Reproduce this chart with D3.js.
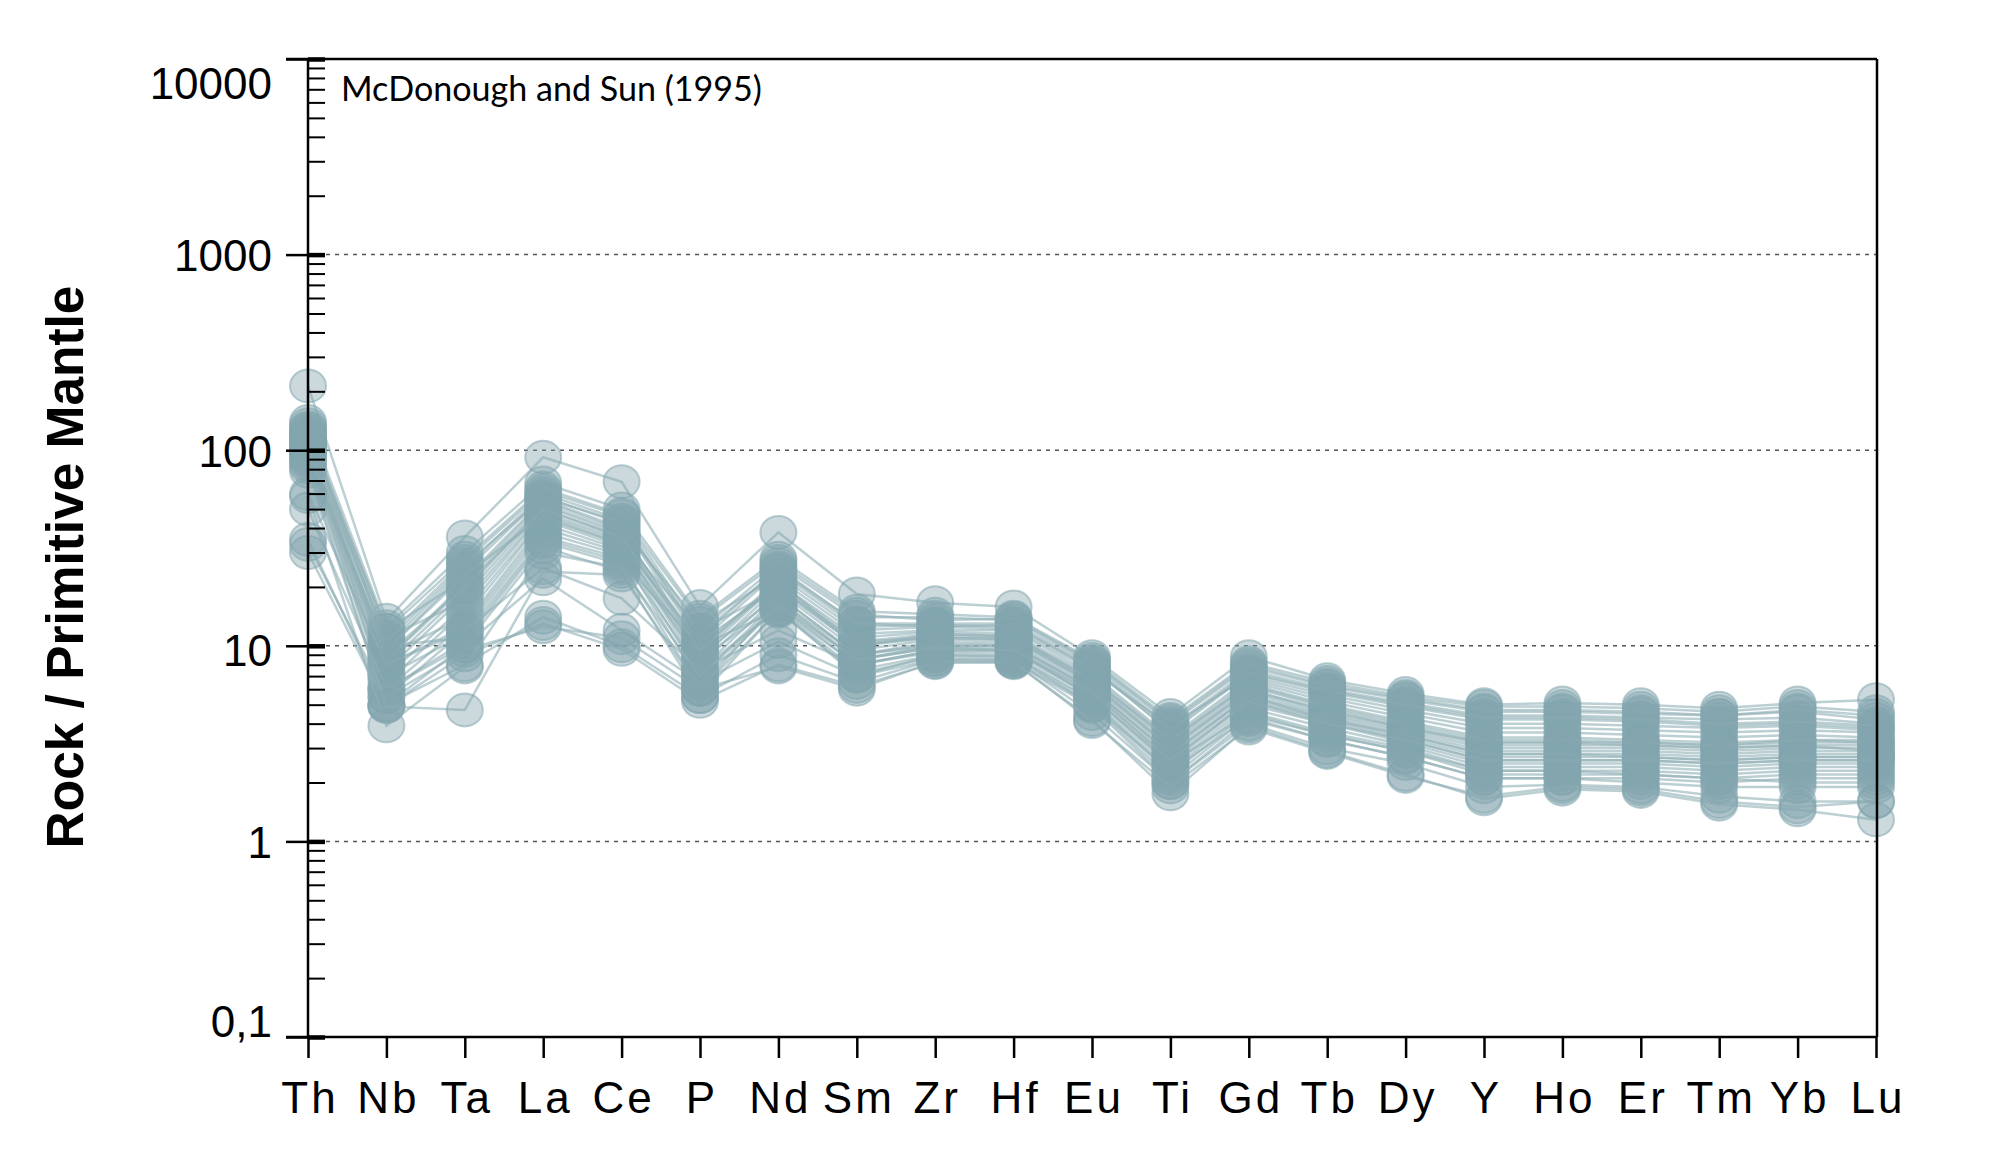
<!DOCTYPE html>
<html>
<head>
<meta charset="utf-8">
<script src="https://cdn.jsdelivr.net/npm/d3@7"></script>
<style>
  html, body { margin: 0; padding: 0; background: #fff; }
  svg { display: block; }
</style>
</head>
<body>
<svg id="chart" width="2000" height="1157"></svg>
<script>
// ---------------- DATA ----------------
const elements = ["Th","Nb","Ta","La","Ce","P","Nd","Sm","Zr","Hf","Eu","Ti","Gd","Tb","Dy","Y","Ho","Er","Tm","Yb","Lu"];
const yTickValues = [0.1, 1, 10, 100, 1000, 10000];
const yTickLabels = ["0,1", "1", "10", "100", "1000", "10000"];
const gridValues = [1, 10, 100, 1000];
const yTitle = "Rock / Primitive Mantle";
const noteText = "McDonough and Sun (1995)";

// samples (Rock / Primitive Mantle), order = elements
const s01 = [213, 13.5, 36, 92, 69, 15.9, 38, 18.4, 16.6, 15.8, 8.8, 4.4, 8.8, 6.7, 5.7, 5.0, 5.1, 5.0, 4.8, 5.1, 5.3];
const s02 = [140, 12.5, 30, 68, 50, 14, 28, 15, 14.5, 14, 8.5, 4.2, 8.2, 6.5, 5.5, 4.9, 4.9, 4.8, 4.6, 4.9, 4.6];
const s03 = [135, 11, 27, 62, 46, 12, 26, 14, 14, 13.5, 8.2, 4.0, 7.8, 6.2, 5.3, 4.6, 4.6, 4.5, 4.4, 4.6, 4.2];
const s04 = [130, 10, 25, 60, 44, 11, 25, 13, 13, 13, 8, 3.8, 7.5, 6, 5.1, 4.4, 4.4, 4.3, 4.2, 4.3, 4.0];
const s05 = [125, 9.5, 24, 58, 42, 10.5, 24, 12.5, 12.8, 12.5, 7.8, 3.6, 7.2, 5.8, 4.9, 4.2, 4.2, 4.1, 3.9, 4.0, 3.8];
const s06 = [120, 12, 22, 56, 40, 13, 23, 12, 12.5, 12.2, 7.5, 3.9, 7.0, 5.6, 4.7, 4.0, 4.0, 3.9, 3.8, 3.9, 3.7];
const s07 = [118, 8.5, 21, 55, 39, 9.5, 22, 11.5, 12, 12, 7.2, 3.4, 6.8, 5.4, 4.5, 3.8, 3.8, 3.7, 3.6, 3.7, 3.6];
const s08 = [115, 9, 20, 53, 38, 10, 21, 11, 11.8, 11.5, 7, 3.3, 6.6, 5.2, 4.3, 3.6, 3.6, 3.5, 3.4, 3.5, 3.4];
const s09 = [112, 8, 19, 52, 37, 9, 21, 10.5, 11.5, 11.2, 6.8, 3.2, 6.4, 5.0, 4.1, 3.4, 3.4, 3.3, 3.2, 3.3, 3.3];
const s10 = [110, 7.5, 18, 50, 36, 8.5, 20, 10, 11.2, 11, 6.6, 3.1, 6.2, 4.8, 3.9, 3.2, 3.2, 3.2, 3.1, 3.2, 3.2];
const s11 = [108, 11, 17, 48, 35, 12, 19.5, 10, 11, 10.8, 6.5, 3.0, 6.0, 4.6, 3.8, 3.1, 3.1, 3.1, 3.0, 3.1, 3.1];
const s12 = [105, 7, 16, 47, 34, 8, 19, 9.5, 10.8, 10.5, 6.3, 2.9, 5.8, 4.5, 3.7, 3.0, 3.0, 3.0, 2.9, 3.0, 3.0];
const s13 = [102, 6.5, 15, 45, 33, 7.5, 18, 9, 10.5, 10.2, 6.1, 2.8, 5.6, 4.4, 3.6, 2.9, 2.9, 2.9, 2.8, 2.9, 2.9];
const s14 = [100, 9, 14, 44, 32, 9, 18, 9, 10.2, 10, 6.0, 2.7, 5.5, 4.3, 3.5, 2.8, 2.8, 2.8, 2.7, 2.8, 2.8];
const s15 = [98, 6, 13, 42, 31, 7, 17, 8.5, 10, 9.8, 5.8, 2.6, 5.3, 4.2, 3.4, 2.7, 2.7, 2.7, 2.6, 2.7, 2.7];
const s16 = [95, 8, 12.5, 40, 30, 8.5, 16.5, 8.5, 9.8, 9.5, 5.6, 2.5, 5.2, 4.1, 3.3, 2.6, 2.6, 2.6, 2.5, 2.6, 2.6];
const s17 = [92, 5.5, 12, 38, 29, 6.5, 16, 8, 9.5, 9.3, 5.5, 2.4, 5.0, 4.0, 3.2, 2.5, 2.5, 2.5, 2.4, 2.5, 2.5];
const s18 = [90, 7, 11.5, 36, 28, 7.5, 15.5, 8, 9.3, 9, 5.3, 2.3, 4.8, 3.8, 3.1, 2.4, 2.4, 2.4, 2.3, 2.4, 2.4];
const s19 = [88, 10, 11, 35, 27, 10, 15.3, 7.5, 9, 8.8, 5.2, 2.2, 4.6, 3.6, 3.0, 2.3, 2.3, 2.3, 2.2, 2.3, 2.3];
const s20 = [85, 6, 10.5, 34, 26, 6, 15, 7.2, 8.8, 8.5, 5.0, 2.1, 4.4, 3.5, 2.9, 2.2, 2.2, 2.2, 2.1, 2.2, 2.2];
const s21 = [82, 5, 10, 32, 24, 5.5, 15.3, 7, 8.5, 8.3, 4.9, 2.0, 4.2, 3.3, 2.7, 2.1, 2.1, 2.1, 2.0, 2.1, 2.1];
const s22 = [128, 12, 28, 64, 47, 13.5, 27, 14.5, 13.5, 13.8, 8.3, 4.1, 8.0, 6.3, 5.4, 4.7, 4.7, 4.6, 4.4, 4.7, 4.4];
const s23 = [122, 10.5, 26, 57, 43, 11.5, 24.5, 13, 12.5, 12.8, 7.6, 3.7, 7.3, 5.9, 5.0, 4.3, 4.3, 4.2, 4.0, 4.1, 3.9];
const s24 = [97, 9.5, 23, 46, 33, 10.5, 20, 10.5, 11, 10.8, 6.4, 3.0, 5.9, 4.7, 3.8, 3.2, 3.2, 3.1, 3.0, 3.1, 2.9];
const s25 = [104, 8.5, 20, 50, 36, 9.5, 21, 10, 11.5, 11.2, 6.7, 3.3, 6.3, 4.9, 4.0, 3.3, 3.3, 3.2, 3.1, 3.3, 3.2];
const s26 = [60, 8, 12, 25, 17.5, 7.5, 12, 8, 9.5, 9.5, 5.5, 2.5, 4.5, 3.5, 2.9, 2.3, 2.3, 2.2, 2.1, 2.0, 2.0];
const s27 = [50, 6, 10, 22, 12, 6.5, 10.5, 7, 9, 8.8, 5, 2.3, 4.3, 3.3, 2.7, 2.1, 2.1, 2.0, 1.9, 1.9, 1.9];
const s28 = [35, 5, 8, 14, 10, 5.5, 9, 6.5, 8.5, 8.5, 4.5, 2.0, 4.0, 3.0, 2.5, 1.9, 1.95, 1.9, 1.7, 1.6, 1.6];
const s29 = [30, 4.9, 9, 13, 9.6, 5.2, 8, 6.2, 8.2, 8.2, 4.2, 1.75, 3.9, 2.9, 2.2, 1.65, 1.85, 1.8, 1.55, 1.45, 1.29];
const s30 = [33, 5.5, 9.5, 12.5, 11, 6, 7.8, 6, 8.3, 8.3, 4.1, 1.9, 3.8, 2.85, 2.15, 1.7, 1.9, 1.85, 1.6, 1.5, 1.6];
const s31 = [78, 4.9, 4.7, 24, 23, 6, 17, 9, 10, 10, 6, 2.8, 5.5, 4.2, 3.5, 2.8, 2.8, 2.7, 2.6, 2.7, 2.7];
const s32 = [58, 3.9, 7.8, 30, 25, 7, 16, 8.5, 9.8, 9.5, 5.8, 2.6, 5.2, 4.0, 3.3, 2.6, 2.6, 2.6, 2.5, 2.6, 2.6];

const samples = [s01,s02,s03,s04,s05,s06,s07,s08,s09,s10,s11,s12,s13,s14,s15,s16,
                 s17,s18,s19,s20,s21,s22,s23,s24,s25,s26,s27,s28,s29,s30,s31,s32];

// ---------------- LAYOUT ----------------
const L = 308, R = 1876, T = 59, B = 1037;
const svg = d3.select("#chart");
const font = "'Liberation Sans', Arial, Helvetica, sans-serif";

const x = d3.scalePoint().domain(elements).range([L, R]).padding(0);
const y = d3.scaleLog().domain([0.1, 10000]).range([B, T]);

// grid lines
svg.append("g").selectAll("line").data(gridValues).join("line")
  .attr("x1", L + 18).attr("x2", R)
  .attr("y1", d => y(d)).attr("y2", d => y(d))
  .attr("stroke", "#555").attr("stroke-width", 1.5)
  .attr("stroke-dasharray", "4,5");

// series
const color = "#82a5ae";
const line = d3.line().x((d, i) => x(elements[i])).y(d => y(d));
const gData = svg.append("g");
samples.forEach(s => {
  const g = gData.append("g");
  g.append("path").attr("d", line(s))
    .attr("fill", "none").attr("stroke", "#8fafb6")
    .attr("stroke-opacity", 0.6).attr("stroke-width", 2.5);
  g.selectAll("ellipse").data(s).join("ellipse")
    .attr("cx", (d, i) => x(elements[i])).attr("cy", d => y(d))
    .attr("rx", 18).attr("ry", 16.5)
    .attr("fill", color).attr("fill-opacity", 0.42)
    .attr("stroke", color).attr("stroke-opacity", 0.55).attr("stroke-width", 2);
});

// ---------------- AXES ----------------
// minor ticks (inside)
const minorVals = [];
yTickValues.slice(0, -1).forEach(v => { for (let k = 2; k <= 9; k++) minorVals.push(v * k); });
const gMinor = svg.append("g").attr("transform", `translate(${L},0)`)
  .call(d3.axisRight(y).tickValues(minorVals).tickSize(17).tickFormat(""));
gMinor.select(".domain").remove();
gMinor.selectAll(".tick line").attr("stroke", "#000").attr("stroke-width", 2);

// major ticks + labels
const gY = svg.append("g").attr("transform", `translate(${L},0)`)
  .call(d3.axisLeft(y).tickValues(yTickValues).tickSize(22)
        .tickFormat((d, i) => yTickLabels[i]));
gY.select(".domain").remove();
gY.selectAll(".tick line").attr("stroke", "#000").attr("stroke-width", 2.5);
gY.selectAll(".tick").append("line")
  .attr("x1", 0).attr("x2", 17).attr("stroke", "#000").attr("stroke-width", 4.5);
gY.selectAll(".tick text")
  .attr("font-family", font).attr("font-size", 44).attr("fill", "#000")
  .attr("x", -36).attr("dy", 0)
  .attr("y", d => d === 10000 ? 39 : (d === 0.1 ? -1 : (d === 10 ? 20 : 16)));

// x axis
const gX = svg.append("g").attr("transform", `translate(0,${B})`)
  .call(d3.axisBottom(x).tickSize(21).tickSizeOuter(0));
gX.select(".domain").remove();
gX.selectAll(".tick line").attr("stroke", "#000").attr("stroke-width", 2.5);
gX.selectAll(".tick text")
  .attr("font-family", font).attr("font-size", 44).attr("fill", "#000")
  .attr("letter-spacing", 3).attr("dx", 1.5)
  .attr("y", 76).attr("dy", 0);

// frame
const frame = svg.append("g").attr("stroke", "#000").attr("stroke-width", 2.5).attr("fill", "none");
frame.append("line").attr("x1", L - 22).attr("x2", R + 1).attr("y1", T).attr("y2", T);
frame.append("line").attr("x1", L - 22).attr("x2", R + 1).attr("y1", B).attr("y2", B);
frame.append("line").attr("x1", L).attr("x2", L).attr("y1", T).attr("y2", B);
frame.append("line").attr("x1", R + 1).attr("x2", R + 1).attr("y1", T).attr("y2", B);

// helper: fit font size to target width
function fit(sel, target) {
  const w = sel.node().getComputedTextLength();
  const fs = parseFloat(sel.attr("font-size"));
  sel.attr("font-size", fs * target / w);
}

// note
const note = svg.append("text").text(noteText)
  .attr("x", 341).attr("y", 101)
  .attr("font-family", "Lato, 'Open Sans', sans-serif")
  .attr("font-size", 33).attr("fill", "#000");
fit(note, 421);

// y title
const title = svg.append("text").text(yTitle)
  .attr("transform", "translate(83,567) rotate(-90)")
  .attr("text-anchor", "middle")
  .attr("font-family", font).attr("font-weight", "bold")
  .attr("font-size", 51).attr("fill", "#000");
fit(title, 563);
</script>
</body>
</html>
